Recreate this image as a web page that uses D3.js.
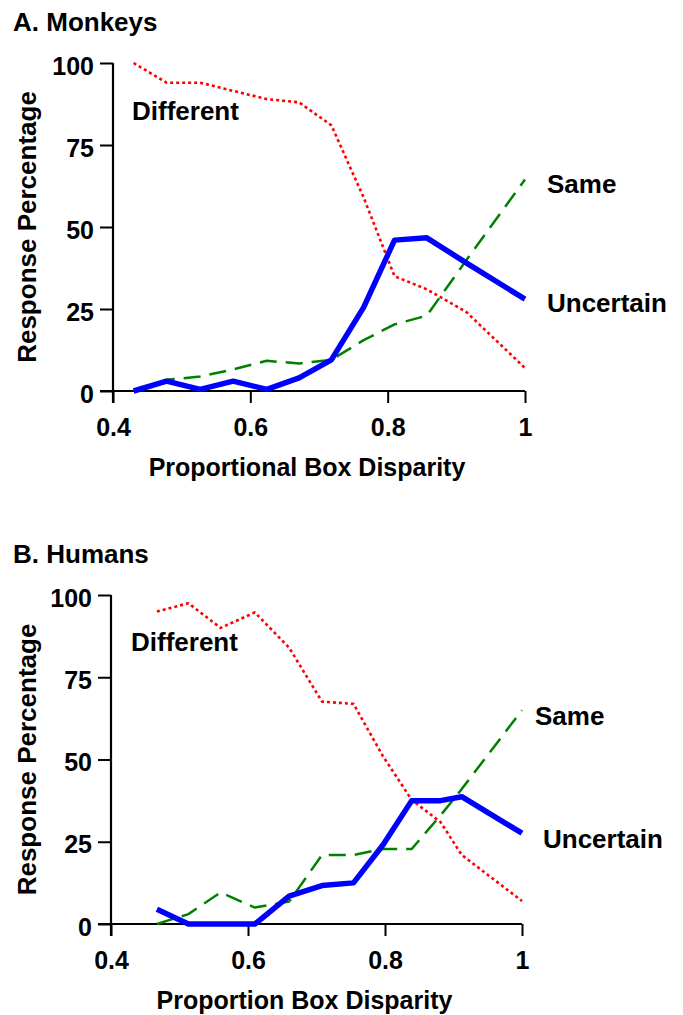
<!DOCTYPE html>
<html>
<head>
<meta charset="utf-8">
<script src="https://cdn.jsdelivr.net/npm/d3@7"></script>
<style>
  html, body { margin: 0; padding: 0; background: #fff; }
  svg text { font-family: "Liberation Sans", Arial, sans-serif; font-weight: bold; fill: #000; }
</style>
</head>
<body>
<svg id="chart" width="683" height="1015"></svg>
<script>
// ---- Data ----
const monkeyX = [0.43, 0.478, 0.527, 0.575, 0.624, 0.671, 0.718, 0.765, 0.81, 0.857, 0.915, 1.0];
const monkeyDifferent = [100, 94, 94, 91.5, 89, 88, 81, 59, 35, 31, 24, 7];
const monkeySame = [0, 3.4, 4.4, 6.6, 9.2, 8.4, 9.5, 15.5, 20.3, 23, 40, 64.5];
const monkeyUncertain = [0, 3, 0.5, 3, 0.5, 4, 9.5, 25.5, 46, 46.7, 39, 28];

const humanX = [0.467, 0.513, 0.56, 0.61, 0.66, 0.708, 0.754, 0.797, 0.839, 0.881, 0.912, 1.0];
const humanDifferent = [95, 97.5, 90, 94.7, 84, 67.6, 66.9, 51, 37.7, 31, 21, 7];
const humanSame = [0, 3, 9.6, 5, 6.8, 21, 21, 22.8, 22.8, 33, 41, 65];
const humanUncertain = [4.5, 0, 0, 0, 8.5, 11.7, 12.5, 24, 37.5, 37.5, 38.7, 27.6];

const xTicks = [0.4, 0.6, 0.8, 1];
const yTicks = [0, 25, 50, 75, 100];

const panels = [
  { title: "A. Monkeys", xLabel: "Proportional Box Disparity", x: monkeyX,
    diff: monkeyDifferent, same: monkeySame, unc: monkeyUncertain,
    left: 113, right: 525, top: 63, bottom: 391,
    labels: { diff: [132, 120], same: [547, 193], unc: [547, 312] } },
  { title: "B. Humans", xLabel: "Proportion Box Disparity", x: humanX,
    diff: humanDifferent, same: humanSame, unc: humanUncertain,
    left: 111, right: 522, top: 595, bottom: 924,
    labels: { diff: [131, 651], same: [535, 725], unc: [543, 848] } }
];

const svg = d3.select("#chart");

panels.forEach(p => {
  const g = svg.append("g");
  const x = d3.scaleLinear().domain([0.4, 1]).range([p.left, p.right]);
  const y = d3.scaleLinear().domain([0, 100]).range([p.bottom, p.top]);

  // panel title
  g.append("text").attr("x", 13).attr("y", p.top - 32).attr("font-size", 26).text(p.title);

  // y axis
  const yAxis = g.append("g").attr("transform", `translate(${p.left},0)`)
    .call(d3.axisLeft(y).tickValues(yTicks).tickSize(13).tickPadding(6).tickFormat(d3.format("d")));
  yAxis.select(".domain").remove();
  yAxis.selectAll("line").attr("stroke", "#000").attr("stroke-width", 2);
  yAxis.selectAll("text").attr("font-size", 25).attr("dy", "0.44em");

  // x axis
  const xAxis = g.append("g").attr("transform", `translate(0,${p.bottom})`)
    .call(d3.axisBottom(x).tickValues(xTicks).tickSize(12).tickPadding(15).tickFormat(d => d === 1 ? "1" : d3.format(".1f")(d)));
  xAxis.select(".domain").remove();
  xAxis.selectAll("line").attr("stroke", "#000").attr("stroke-width", 2);
  xAxis.selectAll("text").attr("font-size", 25);

  // axis lines
  g.append("line").attr("x1", p.left).attr("x2", p.left).attr("y1", y(100)).attr("y2", p.bottom + 12)
    .attr("stroke", "#000").attr("stroke-width", 2.2);
  g.append("line").attr("x1", p.left - 13).attr("x2", x(1)).attr("y1", y(0)).attr("y2", y(0))
    .attr("stroke", "#000").attr("stroke-width", 2.2);

  // axis titles
  g.append("text").attr("transform", `translate(36,${(p.top + p.bottom) / 2}) rotate(-90)`)
    .attr("text-anchor", "middle").attr("font-size", 26).text("Response Percentage");
  g.append("text").attr("x", (p.left + p.right) / 2 - 12).attr("y", p.bottom + 85)
    .attr("text-anchor", "middle").attr("font-size", 25).text(p.xLabel);

  const line = d3.line().x(d => x(d[0])).y(d => y(d[1]));
  const series = [
    { vals: p.same, color: "#008000", width: 2.5, dash: "17,9" },
    { vals: p.diff, color: "#ff0000", width: 2.6, dash: "3,3" },
    { vals: p.unc, color: "#0000ff", width: 5.5, dash: null }
  ];
  series.forEach(s => {
    g.append("path").datum(p.x.map((v, i) => [v, s.vals[i]]))
      .attr("d", line).attr("fill", "none").attr("stroke", s.color)
      .attr("stroke-width", s.width).attr("stroke-linejoin", "round")
      .attr("stroke-dasharray", s.dash);
  });

  g.append("text").attr("x", p.labels.diff[0]).attr("y", p.labels.diff[1]).attr("font-size", 26).text("Different");
  g.append("text").attr("x", p.labels.same[0]).attr("y", p.labels.same[1]).attr("font-size", 26).text("Same");
  g.append("text").attr("x", p.labels.unc[0]).attr("y", p.labels.unc[1]).attr("font-size", 26).text("Uncertain");
});
</script>
</body>
</html>
